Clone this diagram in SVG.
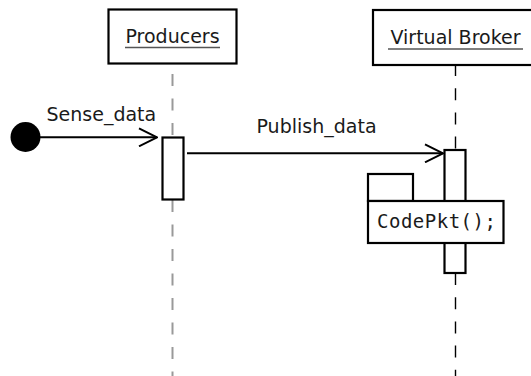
<svg xmlns="http://www.w3.org/2000/svg" width="531" height="376" viewBox="0 0 531 376">
<style>
.box{fill:#fff;stroke:#000;stroke-width:2.2}
.lbl{font-family:"DejaVu Sans",sans-serif;font-size:19px;fill:#1a1a1a}
.mono{font-family:"DejaVu Sans Mono",monospace;font-size:19px;fill:#1a1a1a;letter-spacing:0.5px}
.ul{stroke:#555;stroke-width:1.4}
.msg{stroke:#000;stroke-width:2;fill:none}
.lifeP{stroke:#999;stroke-width:2;stroke-dasharray:12 12.5}
.lifeB{stroke:#000;stroke-width:1.4;stroke-dasharray:12 12.2}
</style>
<defs>
<marker id="open" viewBox="0 0 20 20" refX="19" refY="10" markerWidth="20" markerHeight="20" markerUnits="userSpaceOnUse" orient="auto">
<path d="M1,1 L19,10 L1,19" fill="none" stroke="#000" stroke-width="2"/>
</marker>
</defs>
<rect width="531" height="376" fill="#fff"/>
<g id="producers">
<rect class="box" x="108.5" y="9.5" width="128" height="54"/>
<text class="lbl" x="172.5" y="43" text-anchor="middle">Producers</text>
<line class="ul" x1="125" y1="47.5" x2="220" y2="47.5"/>
<line class="lifeP" x1="172.5" y1="74" x2="172.5" y2="137"/>
<line class="lifeP" x1="172.5" y1="200" x2="172.5" y2="376"/>
<rect id="prodActivation" class="box" x="162.5" y="137.5" width="21" height="62"/>
</g>
<g id="broker">
<rect class="box" x="373" y="10" width="164" height="55"/>
<text class="lbl" x="455.5" y="44" text-anchor="middle">Virtual Broker</text>
<line class="ul" x1="388" y1="49" x2="523" y2="49"/>
<line class="lifeB" x1="455.5" y1="64" x2="455.5" y2="150"/>
<line class="lifeB" x1="455.5" y1="273" x2="455.5" y2="376"/>
<rect id="brokerActivation" class="box" x="444.5" y="150" width="21" height="123"/>
</g>
<g id="start">
<circle cx="25.5" cy="137" r="15" fill="#000"/>
</g>
<g id="codepkt">
<rect class="box" x="368" y="174" width="45" height="27"/>
<rect class="box" x="368" y="201" width="135.5" height="42"/>
<text class="mono" x="377" y="228">CodePkt();</text>
</g>
<g id="connectors">
<line class="msg" x1="30" y1="137.3" x2="157" y2="137.3" marker-end="url(#open)"/>
<text class="lbl" x="46.5" y="121">Sense_data</text>
<line class="msg" x1="187" y1="153.3" x2="443" y2="153.3" marker-end="url(#open)"/>
<text class="lbl" x="256.5" y="133">Publish_data</text>
</g>
</svg>
